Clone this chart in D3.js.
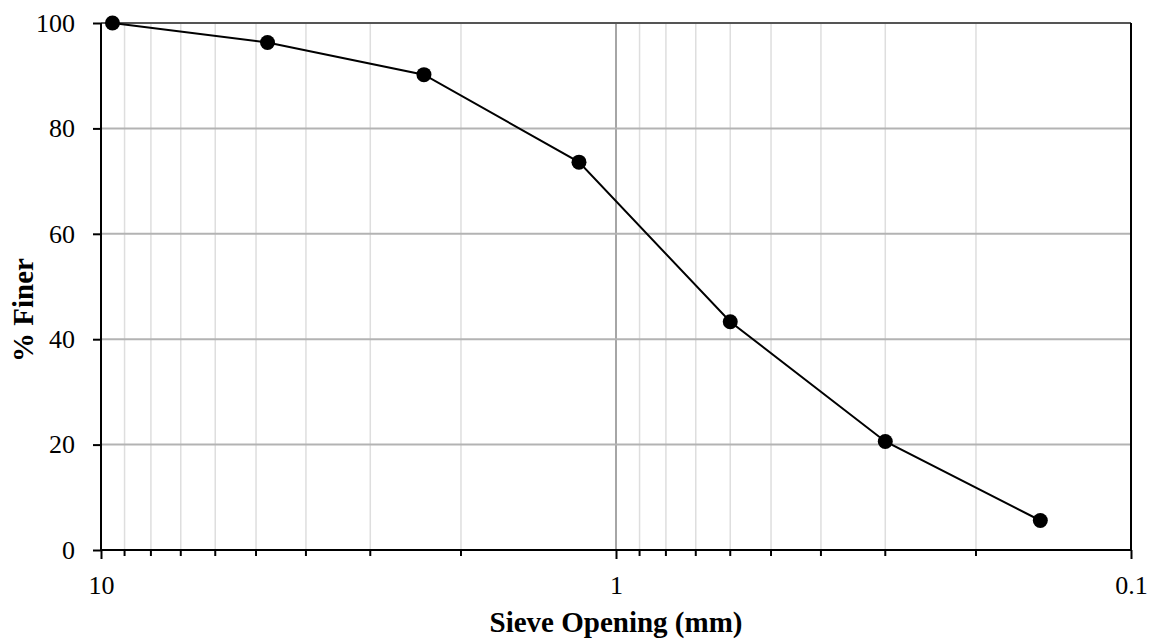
<!DOCTYPE html>
<html>
<head>
<meta charset="utf-8">
<script src="https://cdn.jsdelivr.net/npm/d3@7"></script>
<style>
body { margin: 0; background: #fff; }
text { font-family: "Liberation Serif", "Times New Roman", serif; fill: #000; }
</style>
</head>
<body>
<svg id="chart" width="1158" height="644"></svg>
<script>
// sieve sizes (mm) and percent passing
var sieveSizes = [9.5, 4.75, 2.36, 1.18, 0.6, 0.3, 0.15]
var percentFiner = [100, 96.3, 90.2, 73.6, 43.3, 20.6, 5.6]
var yTicks = [0, 20, 40, 60, 80, 100]
var xMajor = [10, 1, 0.1]
var xMinor = [9, 8, 7, 6, 5, 4, 3, 2, 0.9, 0.8, 0.7, 0.6, 0.5, 0.4, 0.3, 0.2]

var svg = d3.select("#chart")
var pLeft = 101, pRight = 1131, pTop = 23, pBottom = 550

var x = d3.scaleLog().domain([10, 0.1]).range([pLeft, pRight])
var y = d3.scaleLinear().domain([0, 100]).range([pBottom, pTop])

var data = sieveSizes.map(function(s, i) { return { size: s, pct: percentFiner[i] } })

// minor vertical grid
svg.append("g").selectAll("line").data(xMinor).enter().append("line")
	.attr("x1", d => x(d)).attr("x2", d => x(d))
	.attr("y1", pTop).attr("y2", pBottom)
	.attr("stroke", "#dedede").attr("stroke-width", 1.5)

// major vertical grid at 1
svg.append("line")
	.attr("x1", x(1)).attr("x2", x(1)).attr("y1", pTop).attr("y2", pBottom)
	.attr("stroke", "#a6a6a6").attr("stroke-width", 2)

// horizontal grid
svg.append("g").selectAll("line").data(yTicks.filter(d => d > 0 && d < 100)).enter().append("line")
	.attr("x1", pLeft).attr("x2", pRight)
	.attr("y1", d => y(d)).attr("y2", d => y(d))
	.attr("stroke", "#b3b3b3").attr("stroke-width", 2)

// top and right border
svg.append("line").attr("x1", pLeft).attr("x2", pRight).attr("y1", y(100)).attr("y2", y(100))
	.attr("stroke", "#555").attr("stroke-width", 2)
svg.append("line").attr("x1", pRight).attr("x2", pRight).attr("y1", pTop).attr("y2", pBottom)
	.attr("stroke", "#000").attr("stroke-width", 2)

// x axis
var xAxis = d3.axisBottom(x).tickValues(xMajor).tickSize(9).tickPadding(17)
	.tickFormat(d3.format("~g"))
var gx = svg.append("g").attr("transform", "translate(0," + pBottom + ")").call(xAxis)
gx.selectAll(".tick line").attr("stroke-width", 2)
gx.select(".domain").attr("stroke-width", 2).attr("d", "M" + pLeft + ",0H" + pRight)
gx.selectAll("text").attr("font-size", 26).attr("font-family", "Liberation Serif")
gx.append("g").selectAll("line").data(xMinor).enter().append("line")
	.attr("x1", d => x(d)).attr("x2", d => x(d)).attr("y1", 0).attr("y2", 6)
	.attr("stroke", "#000").attr("stroke-width", 2)

// y axis
var yAxis = d3.axisLeft(y).tickValues(yTicks).tickSize(8).tickPadding(18)
var gy = svg.append("g").attr("transform", "translate(" + pLeft + ",0)").call(yAxis)
gy.selectAll(".tick line").attr("stroke-width", 2)
gy.select(".domain").attr("stroke-width", 2).attr("d", "M0," + pBottom + "V" + pTop)
gy.selectAll("text").attr("font-size", 26).attr("font-family", "Liberation Serif")

// axis titles
svg.append("text").attr("x", 616).attr("y", 632)
	.attr("text-anchor", "middle").attr("font-size", 29).attr("font-weight", "bold")
	.text("Sieve Opening (mm)")
svg.append("text").attr("transform", "translate(33,310) rotate(-90)")
	.attr("text-anchor", "middle").attr("font-size", 29).attr("font-weight", "bold")
	.text("% Finer")

// line and markers
var line = d3.line().x(d => x(d.size)).y(d => y(d.pct))
svg.append("path").datum(data).attr("d", line)
	.attr("fill", "none").attr("stroke", "#000").attr("stroke-width", 2)
svg.append("g").selectAll("circle").data(data).enter().append("circle")
	.attr("cx", d => x(d.size)).attr("cy", d => y(d.pct)).attr("r", 7.5)
	.attr("fill", "#000")
</script>
</body>
</html>
